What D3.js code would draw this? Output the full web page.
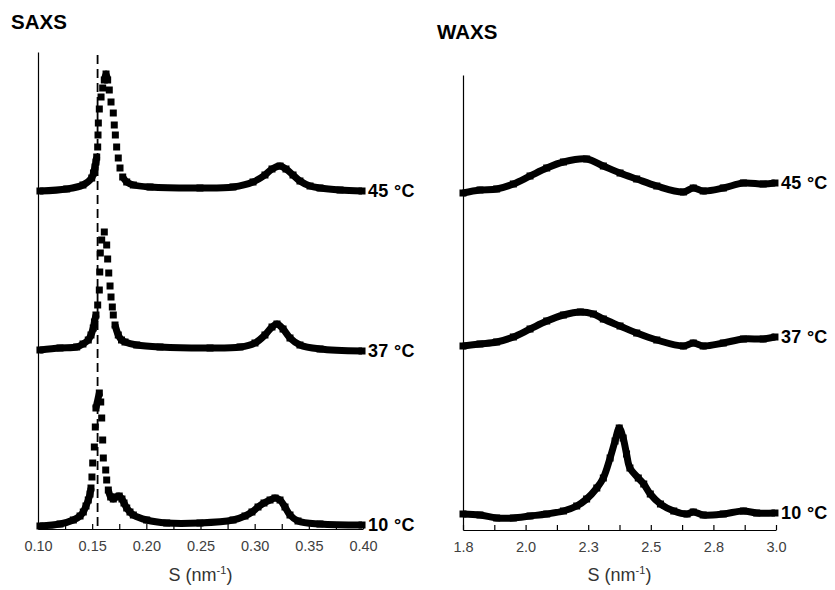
<!DOCTYPE html>
<html>
<head>
<meta charset="utf-8">
<script src="https://cdn.jsdelivr.net/npm/d3@7"></script>
<style>
  body { margin: 0; background: #fff; }
  text { font-family: "Liberation Sans", Arial, sans-serif; }
</style>
</head>
<body>
<div id="chart"></div>
<script>
// SAXS curves, [S (nm^-1), intensity a.u. incl. stacking offset]
const saxs45 = [
  [0.1018, 3.38], [0.1265, 3.40], [0.1415, 3.44], [0.1496, 3.51], [0.1512, 3.56],
  [0.1526, 3.62], [0.1535, 3.67], [0.1542, 3.72], [0.1551, 3.82], [0.1554, 3.94],
  [0.1557, 4.06], [0.1566, 4.20], [0.1582, 4.32], [0.1597, 4.41], [0.1612, 4.49],
  [0.1628, 4.55], [0.1643, 4.49], [0.1658, 4.39], [0.1674, 4.27], [0.1695, 4.16],
  [0.1704, 4.04], [0.1714, 3.94], [0.1726, 3.82], [0.1741, 3.71], [0.1757, 3.61],
  [0.1782, 3.52], [0.1819, 3.47], [0.1880, 3.44], [0.2034, 3.42], [0.2495, 3.41],
  [0.2800, 3.42], [0.2985, 3.47], [0.3095, 3.54], [0.3160, 3.60], [0.3234, 3.63],
  [0.3289, 3.60], [0.3354, 3.54], [0.3418, 3.48], [0.3511, 3.43], [0.3603, 3.41],
  [0.3788, 3.39], [0.3991, 3.38]
];
const saxs37 = [
  [0.1018, 1.79], [0.1203, 1.81], [0.1357, 1.82], [0.1415, 1.85], [0.1464, 1.89],
  [0.1489, 1.94], [0.1510, 2.01], [0.1521, 2.07], [0.1535, 2.14], [0.1551, 2.24],
  [0.1566, 2.39], [0.1570, 2.57], [0.1575, 2.76], [0.1588, 2.89], [0.1612, 2.97],
  [0.1634, 2.84], [0.1643, 2.70], [0.1653, 2.56], [0.1665, 2.43], [0.1674, 2.32],
  [0.1686, 2.22], [0.1695, 2.14], [0.1711, 2.04], [0.1741, 1.94], [0.1771, 1.89],
  [0.1803, 1.87], [0.1911, 1.84], [0.2126, 1.82], [0.2588, 1.81], [0.2865, 1.82],
  [0.3003, 1.86], [0.3095, 1.94], [0.3160, 2.02], [0.3206, 2.05], [0.3262, 2.00],
  [0.3326, 1.91], [0.3418, 1.84], [0.3603, 1.80], [0.3991, 1.78]
];
const saxs10 = [
  [0.1018, 0.03], [0.1203, 0.05], [0.1326, 0.09], [0.1388, 0.13], [0.1418, 0.17],
  [0.1443, 0.23], [0.1464, 0.29], [0.1480, 0.35], [0.1489, 0.41], [0.1498, 0.52],
  [0.1505, 0.66], [0.1520, 0.82], [0.1529, 1.02], [0.1535, 1.21], [0.1566, 1.36],
  [0.1579, 1.27], [0.1588, 1.11], [0.1597, 0.89], [0.1603, 0.71], [0.1625, 0.59],
  [0.1634, 0.49], [0.1649, 0.39], [0.1671, 0.32], [0.1695, 0.30], [0.1720, 0.32],
  [0.1750, 0.33], [0.1775, 0.30], [0.1794, 0.26], [0.1819, 0.21], [0.1849, 0.17],
  [0.1880, 0.14], [0.2003, 0.09], [0.2188, 0.06], [0.2495, 0.06], [0.2800, 0.09],
  [0.2911, 0.13], [0.2975, 0.17], [0.3031, 0.22], [0.3086, 0.26], [0.3142, 0.29],
  [0.3188, 0.31], [0.3234, 0.29], [0.3280, 0.22], [0.3326, 0.14], [0.3400, 0.08],
  [0.3603, 0.05], [0.3991, 0.04]
];

// WAXS curves
const waxs45 = [
  [1.800, 3.37], [1.865, 3.40], [1.929, 3.41], [1.993, 3.46], [2.057, 3.54],
  [2.121, 3.62], [2.185, 3.68], [2.274, 3.71], [2.338, 3.64], [2.402, 3.57],
  [2.466, 3.51], [2.543, 3.44], [2.645, 3.38], [2.683, 3.42], [2.721, 3.39],
  [2.798, 3.42], [2.875, 3.47], [2.951, 3.46], [2.996, 3.47]
];
const waxs37 = [
  [1.800, 1.84], [1.865, 1.86], [1.929, 1.88], [1.993, 1.93], [2.057, 2.01],
  [2.121, 2.09], [2.185, 2.15], [2.250, 2.18], [2.300, 2.16], [2.338, 2.11],
  [2.402, 2.04], [2.466, 1.97], [2.543, 1.90], [2.645, 1.84], [2.683, 1.87],
  [2.721, 1.84], [2.798, 1.87], [2.875, 1.91], [2.951, 1.91], [2.996, 1.93]
];
const waxs10 = [
  [1.800, 0.16], [1.865, 0.15], [1.929, 0.12], [1.993, 0.12], [2.057, 0.14],
  [2.121, 0.16], [2.185, 0.19], [2.236, 0.24], [2.274, 0.31], [2.313, 0.42],
  [2.338, 0.52], [2.364, 0.72], [2.383, 0.89], [2.399, 1.02], [2.414, 0.92],
  [2.427, 0.76], [2.440, 0.62], [2.472, 0.52], [2.493, 0.46], [2.518, 0.36],
  [2.557, 0.26], [2.608, 0.19], [2.659, 0.16], [2.683, 0.18], [2.721, 0.15],
  [2.798, 0.16], [2.875, 0.19], [2.926, 0.17], [2.996, 0.17]
];

const temps = ["45 °C", "37 °C", "10 °C"];
const saxsRefS = 0.155;

const saxsTickValues = [0.10, 0.125, 0.15, 0.175, 0.20, 0.225, 0.25, 0.275, 0.30, 0.325, 0.35, 0.375, 0.40];
const saxsTickLabels = ["0.10", "", "0.15", "", "0.20", "", "0.25", "", "0.30", "", "0.35", "", "0.40"];
const waxsTickValues = [1.8, 1.92, 2.04, 2.16, 2.28, 2.40, 2.52, 2.64, 2.76, 2.88, 3.0];
const waxsTickLabels = ["1.8", "", "2.0", "", "2.3", "", "2.5", "", "2.8", "", "3.0"];

const W = 835, H = 590;
const svg = d3.select("#chart").append("svg")
  .attr("width", W).attr("height", H)
  .style("background", "#fff");

const lineW = 7;

function drawCurve(g, data, x, y) {
  let pts = data.map(d => [x(d[0]), y(d[1])]);
  // steep sparse steps show as separate markers, dense ones merge into a line
  let runs = [], run = [pts[0]];
  for (let i = 1; i < pts.length; i++) {
    let dx = pts[i][0] - pts[i - 1][0], dy = pts[i][1] - pts[i - 1][1];
    if (Math.abs(dx) < 3 && Math.abs(dy) > 7) { runs.push(run); run = [pts[i]]; }
    else run.push(pts[i]);
  }
  runs.push(run);

  let line = d3.line().curve(d3.curveCatmullRom.alpha(0.5));
  runs.filter(r => r.length > 1).forEach(r => {
    g.append("path")
      .attr("d", line(r))
      .attr("fill", "none")
      .attr("stroke", "#000")
      .attr("stroke-width", lineW)
      .attr("stroke-linejoin", "round");
  });

  g.selectAll(null)
    .data(pts)
    .enter().append("rect")
    .attr("x", d => d[0] - lineW / 2)
    .attr("y", d => d[1] - lineW / 2)
    .attr("width", lineW)
    .attr("height", lineW)
    .attr("fill", "#000");
}

function panel(opts) {
  let x = d3.scaleLinear().domain(opts.xDomain).range(opts.xRange);
  let y = d3.scaleLinear().domain(opts.yDomain).range(opts.yRange);
  let g = svg.append("g");

  // y axis: plain line only
  g.append("g")
    .attr("transform", "translate(" + opts.xRange[0] + ",0)")
    .call(d3.axisLeft(y).tickValues([]).tickSizeOuter(0))
    .select(".domain").attr("stroke", "#000").attr("stroke-width", 1.2);

  // x axis with inward ticks
  let xAxis = g.append("g")
    .attr("transform", "translate(0," + opts.yRange[0] + ")")
    .call(d3.axisBottom(x)
      .tickValues(opts.tickValues)
      .tickFormat((d, i) => opts.tickLabels[i])
      .tickSize(-5)
      .tickSizeOuter(0)
      .tickPadding(12));
  xAxis.select(".domain").attr("stroke", "#000").attr("stroke-width", 1.2);
  xAxis.selectAll(".tick line").attr("stroke", "#000").attr("stroke-width", 1.2);
  xAxis.selectAll(".tick text")
    .attr("fill", "#404040")
    .style("font-size", "14.5px")
    .style("font-family", "'Liberation Sans', Arial, sans-serif");

  // axis title
  let t = g.append("text")
    .attr("x", (opts.xRange[0] + opts.xRange[1]) / 2)
    .attr("y", 581)
    .attr("text-anchor", "middle")
    .attr("fill", "#333")
    .style("font-size", "18px");
  t.append("tspan").text("S (nm");
  t.append("tspan").attr("dy", -7).style("font-size", "11px").text("-1");
  t.append("tspan").attr("dy", 7).text(")");

  // panel title
  g.append("text")
    .attr("x", opts.titlePos[0])
    .attr("y", opts.titlePos[1])
    .attr("fill", "#000")
    .style("font-size", "20.5px")
    .style("font-weight", "bold")
    .text(opts.title);

  if (opts.refS != null) {
    g.append("line")
      .attr("x1", x(opts.refS)).attr("x2", x(opts.refS))
      .attr("y1", y(opts.yDomain[1]) + 3).attr("y2", y(0))
      .attr("stroke", "#000")
      .attr("stroke-width", 1.8)
      .attr("stroke-dasharray", "9,5");
  }

  opts.series.forEach((s, i) => {
    drawCurve(g, s, x, y);
    let last = s[s.length - 1];
    g.append("text")
      .attr("x", x(last[0]) + 6)
      .attr("y", y(last[1]))
      .attr("dy", "0.36em")
      .attr("fill", "#000")
      .style("font-size", "18px")
      .style("font-weight", "bold")
      .style("letter-spacing", "0.3px")
      .text(temps[i]);
  });
}

panel({
  title: "SAXS", titlePos: [11, 29],
  xDomain: [0.10, 0.40], xRange: [38, 363],
  yDomain: [0, 4.77], yRange: [529, 52],
  tickValues: saxsTickValues, tickLabels: saxsTickLabels,
  series: [saxs45, saxs37, saxs10],
  refS: saxsRefS
});

panel({
  title: "WAXS", titlePos: [437, 39],
  xDomain: [1.8, 3.0], xRange: [463, 776],
  yDomain: [0, 4.55], yRange: [530, 75],
  tickValues: waxsTickValues, tickLabels: waxsTickLabels,
  series: [waxs45, waxs37, waxs10],
  refS: null
});
</script>
</body>
</html>
